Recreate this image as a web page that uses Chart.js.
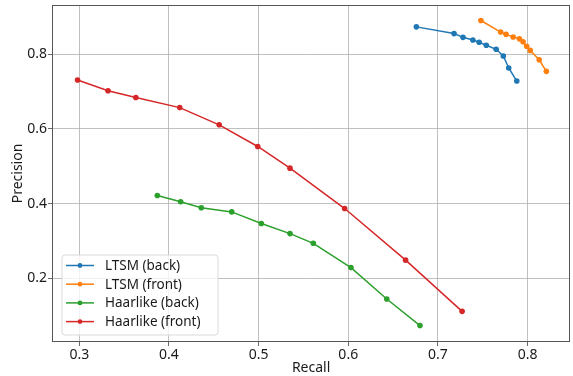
<!DOCTYPE html>
<html>
<head>
<meta charset="utf-8">
<script src="https://cdn.jsdelivr.net/npm/chart.js@4/dist/chart.umd.min.js"></script>
<style>
html,body{margin:0;padding:0;background:#fff;}
#wrap{width:573px;height:376px;position:relative;}
</style>
</head>
<body>
<div id="wrap"><canvas id="c" width="573" height="376"></canvas></div>
<script>
const seriesNames = ["LTSM (back)", "LTSM (front)", "Haarlike (back)", "Haarlike (front)"];
const seriesColors = ["#1f77b4", "#ff7f0e", "#2ca02c", "#d62728"];

const ltsmBackRecall    = [0.676, 0.718, 0.728, 0.739, 0.746, 0.754, 0.765, 0.773, 0.779, 0.788];
const ltsmBackPrecision = [0.873, 0.855, 0.845, 0.838, 0.832, 0.824, 0.813, 0.795, 0.763, 0.728];

const ltsmFrontRecall    = [0.748, 0.770, 0.776, 0.784, 0.791, 0.795, 0.799, 0.803, 0.813, 0.821];
const ltsmFrontPrecision = [0.890, 0.859, 0.853, 0.846, 0.841, 0.833, 0.821, 0.810, 0.785, 0.754];

const haarBackRecall    = [0.387, 0.413, 0.436, 0.470, 0.503, 0.535, 0.561, 0.603, 0.643, 0.680];
const haarBackPrecision = [0.422, 0.405, 0.389, 0.378, 0.347, 0.320, 0.294, 0.229, 0.145, 0.074];

const haarFrontRecall    = [0.298, 0.332, 0.363, 0.412, 0.456, 0.499, 0.535, 0.596, 0.664, 0.727];
const haarFrontPrecision = [0.731, 0.702, 0.684, 0.657, 0.611, 0.553, 0.495, 0.387, 0.249, 0.112];

const xTicks = [0.3, 0.4, 0.5, 0.6, 0.7, 0.8];
const yTicks = [0.2, 0.4, 0.6, 0.8];

const xs = [ltsmBackRecall, ltsmFrontRecall, haarBackRecall, haarFrontRecall];
const ys = [ltsmBackPrecision, ltsmFrontPrecision, haarBackPrecision, haarFrontPrecision];

const datasets = seriesNames.map((name, i) => ({
  label: name,
  data: xs[i].map((x, j) => ({x: x, y: ys[i][j]})),
  borderColor: seriesColors[i],
  backgroundColor: seriesColors[i],
  borderWidth: 1.5,
  pointRadius: 2.8,
  pointHoverRadius: 2.8,
  pointBorderWidth: 0,
  showLine: true,
  tension: 0
}));

const textFamily = '"Noto Sans", "DejaVu Sans", sans-serif';
const tickFont = {family: textFamily, size: 14};
const frameColor = "#555555";

const framePlugin = {
  id: 'frameAndLegend',
  afterDraw(chart) {
    const ctx = chart.ctx;
    const a = chart.chartArea;
    ctx.save();
    ctx.strokeStyle = frameColor;
    ctx.lineWidth = 1;
    ctx.strokeRect(Math.round(a.left) + 0.5, Math.round(a.top) + 0.5,
                   Math.round(a.right - a.left) - 1, Math.round(a.bottom - a.top) - 1);
    // legend inside plot, lower-left
    const lx = 62, ly = 255, lw = 156, lh = 80;
    ctx.fillStyle = "rgba(255,255,255,0.8)";
    ctx.strokeStyle = "#d9d9d9";
    ctx.lineWidth = 1;
    const r = 3;
    ctx.beginPath();
    ctx.moveTo(lx + r, ly);
    ctx.arcTo(lx + lw, ly, lx + lw, ly + lh, r);
    ctx.arcTo(lx + lw, ly + lh, lx, ly + lh, r);
    ctx.arcTo(lx, ly + lh, lx, ly, r);
    ctx.arcTo(lx, ly, lx + lw, ly, r);
    ctx.closePath();
    ctx.fill();
    ctx.stroke();
    ctx.font = '13.5px ' + textFamily;
    ctx.textBaseline = 'middle';
    chart.data.datasets.forEach((ds, i) => {
      const yy = 265.5 + i * 18.7;
      ctx.strokeStyle = ds.borderColor;
      ctx.lineWidth = 1.5;
      ctx.beginPath();
      ctx.moveTo(66, yy);
      ctx.lineTo(94, yy);
      ctx.stroke();
      ctx.fillStyle = ds.borderColor;
      ctx.beginPath();
      ctx.arc(80, yy, 2.4, 0, Math.PI * 2);
      ctx.fill();
      ctx.fillStyle = "#1a1a1a";
      ctx.fillText(ds.label, 105, yy + 0.5);
    });
    ctx.restore();
  }
};

new Chart(document.getElementById('c'), {
  type: 'scatter',
  data: {datasets: datasets},
  plugins: [framePlugin],
  options: {
    responsive: false,
    animation: false,
    layout: {padding: {top: 5, right: 1, left: 0, bottom: 0}},
    plugins: {legend: {display: false}, tooltip: {enabled: false}},
    scales: {
      x: {
        type: 'linear',
        min: 0.2695,
        max: 0.8476,
        afterBuildTicks(s) { s.ticks = xTicks.map(v => ({value: v})); },
        afterFit(s) { s.height = 34; s.paddingLeft = 0; s.paddingRight = 0; },
        ticks: {
          font: tickFont, color: "#1a1a1a", padding: 1,
          callback: v => v.toFixed(1),
          maxRotation: 0, autoSkip: false
        },
        grid: {color: "#b0b0b0", lineWidth: 0.8, tickLength: 4, tickColor: "#444", drawTicks: true},
        border: {display: false},
        title: {display: true, text: "Recall", font: {family: textFamily, size: 14}, color: "#1a1a1a", padding: {top: 0, bottom: 0}}
      },
      y: {
        type: 'linear',
        min: 0.030,
        max: 0.9315,
        afterBuildTicks(s) { s.ticks = yTicks.map(v => ({value: v})); },
        afterFit(s) { s.width = 52; s.paddingTop = 0; s.paddingBottom = 0; },
        ticks: {
          font: tickFont, color: "#1a1a1a", padding: 1,
          callback: v => v.toFixed(1)
        },
        grid: {color: "#b0b0b0", lineWidth: 0.8, tickLength: 4, tickColor: "#444", drawTicks: true},
        border: {display: false},
        title: {display: true, text: "Precision", font: {family: textFamily, size: 14}, color: "#1a1a1a", padding: {top: 10, bottom: 4}}
      }
    }
  }
});
</script>
</body>
</html>
